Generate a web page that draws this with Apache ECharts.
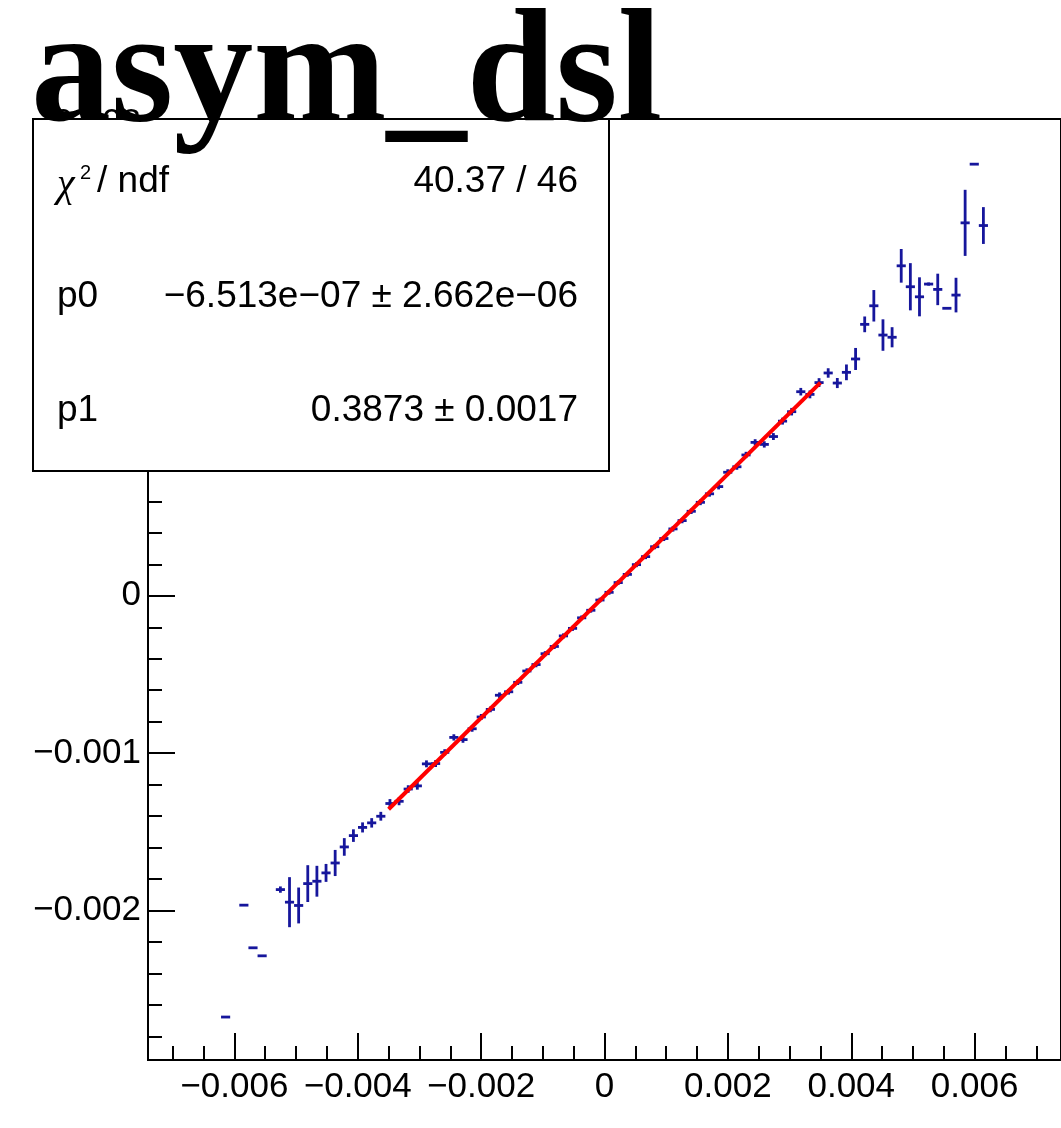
<!DOCTYPE html>
<html>
<head>
<meta charset="utf-8">
<script src="https://cdn.jsdelivr.net/npm/echarts@6/dist/echarts.min.js"></script>
<style>
  html, body { margin: 0; padding: 0; background: #fff; }
  #chart { width: 1061px; height: 1128px; }
</style>
</head>
<body>
<div id="chart"></div>
<script>
// profile bins (centre, mean, error)
const binWidth = 0.000148;
const binX = [
  -0.006142, -0.005846, -0.005698, -0.00555, -0.005254, -0.005106, -0.004958, -0.00481,
  -0.004662, -0.004514, -0.004366, -0.004218, -0.00407, -0.003922, -0.003774, -0.003626,
  -0.003478, -0.00333, -0.003182, -0.003034, -0.002886, -0.002738, -0.00259, -0.002442,
  -0.002294, -0.002146, -0.001998, -0.00185, -0.001702, -0.001554, -0.001406, -0.001258,
  -0.00111, -0.000962, -0.000814, -0.000666, -0.000518, -0.00037, -0.000222, -0.000074,
  0.000074, 0.000222, 0.00037, 0.000518, 0.000666, 0.000814, 0.000962, 0.00111,
  0.001258, 0.001406, 0.001554, 0.001702, 0.00185, 0.001998, 0.002146, 0.002294,
  0.002442, 0.00259, 0.002738, 0.002886, 0.003034, 0.003182, 0.00333, 0.003478,
  0.003626, 0.003774, 0.003922, 0.00407, 0.004218, 0.004366, 0.004514, 0.004662,
  0.00481, 0.004958, 0.005106, 0.005254, 0.005402, 0.00555, 0.005698, 0.005846,
  0.005994, 0.006142
];
const profY = [
  -0.002677, -0.001966, -0.002237, -0.002288, -0.001867, -0.001947, -0.001968, -0.001829,
  -0.001814, -0.001761, -0.001698, -0.001596, -0.001524, -0.001472, -0.001443, -0.001401,
  -0.001320, -0.001306, -0.001228, -0.001208, -0.001068, -0.001066, -0.000995, -0.000900,
  -0.000914, -0.000845, -0.000770, -0.000722, -0.000632, -0.000610, -0.000550, -0.000478,
  -0.000437, -0.000368, -0.000322, -0.000255, -0.000207, -0.000140, -0.000092, -0.000027,
  0.000022, 0.000084, 0.000136, 0.000198, 0.000249, 0.000312, 0.000364, 0.000425,
  0.000478, 0.000537, 0.000594, 0.000648, 0.000694, 0.000785, 0.000820, 0.000895,
  0.000975, 0.000962, 0.001012, 0.001110, 0.001170, 0.001297, 0.001280, 0.001355,
  0.001416, 0.001352, 0.001420, 0.001505, 0.001725, 0.001843, 0.001657, 0.001643,
  0.002097, 0.001964, 0.001900, 0.001981, 0.001947, 0.001827, 0.001911, 0.002370,
  0.002743, 0.002353
];
const profErr = [
  0, 0, 0, 0, 0.00002, 0.000159, 0.000114, 0.000117,
  0.000098, 0.000057, 0.000083, 0.000056, 0.00004, 0.000032, 0.00003, 0.000028,
  0.000028, 0.000025, 0.000024, 0.000024, 0.000022, 0.000022, 0.00002, 0.00002,
  0.00002, 0.000019, 0.000019, 0.000018, 0.000018, 0.000018, 0.000017, 0.000017,
  0.000017, 0.000016, 0.000016, 0.000016, 0.000016, 0.000015, 0.000015, 0.000015,
  0.000015, 0.000015, 0.000015, 0.000016, 0.000016, 0.000016, 0.000016, 0.000017,
  0.000017, 0.000017, 0.000018, 0.000018, 0.000018, 0.000019, 0.000019, 0.00002,
  0.00002, 0.00002, 0.000022, 0.000022, 0.000024, 0.000024, 0.000025, 0.000028,
  0.00003, 0.000032, 0.00005, 0.00007, 0.00005, 0.0001, 0.0001, 0.000064,
  0.000107, 0.00015, 0.000124, 0.00001, 0.0001, 0, 0.00011, 0.00021,
  0, 0.000117
];

// pol1 fit
const fitRange = [-0.0035, 0.0035];
const p0 = -6.513e-07;
const p1 = 0.3873;

// axis ticks
const xMajorTicks = [-0.006, -0.004, -0.002, 0, 0.002, 0.004, 0.006];
const xMinorTicks = [-0.007, -0.0065, -0.0055, -0.005, -0.0045, -0.0035, -0.003, -0.0025,
  -0.0015, -0.001, -0.0005, 0.0005, 0.001, 0.0015, 0.0025, 0.003, 0.0035,
  0.0045, 0.005, 0.0055, 0.0065, 0.007];
const yMajorTicks = [-0.002, -0.001, 0, 0.001, 0.002, 0.003];
const yMinorTicks = [-0.0028, -0.0026, -0.0024, -0.0022, -0.0018, -0.0016, -0.0014, -0.0012,
  -0.0008, -0.0006, -0.0004, -0.0002, 0.0002, 0.0004, 0.0006, 0.0008,
  0.0012, 0.0014, 0.0016, 0.0018, 0.0022, 0.0024, 0.0026, 0.0028];

const chart = echarts.init(document.getElementById('chart'));

const blue = '#16169c';
const fmt = v => (v === 0 ? '0' : v.toFixed(3).replace('-', '\u2212'));
const tickStyle = { color: '#000', width: 2 };
const labelFont = { fontFamily: 'Liberation Sans', fontSize: 35, color: '#000' };
const statFont = '37px "Liberation Sans"';

const profData = binX.map((x, i) => [x, profY[i], profErr[i]]);
const fitData = fitRange.map(x => [x, p0 + p1 * x]);

const option = {
  animation: false,
  backgroundColor: '#fff',
  grid: {
    left: 148, top: 119, right: -6, bottom: 68,
    show: true, borderColor: '#000', borderWidth: 2
  },
  xAxis: [
    {
      type: 'value', min: -0.0074, max: 0.0074, position: 'bottom',
      axisLine: { onZero: false, lineStyle: tickStyle },
      axisTick: { inside: true, length: 27, customValues: xMajorTicks, lineStyle: tickStyle },
      axisLabel: Object.assign({ customValues: xMajorTicks, margin: 10, formatter: fmt }, labelFont),
      splitLine: { show: false }
    },
    {
      type: 'value', min: -0.0074, max: 0.0074, position: 'bottom',
      axisLine: { show: false, onZero: false },
      axisTick: { inside: true, length: 14, customValues: xMinorTicks, lineStyle: tickStyle },
      axisLabel: { show: false },
      splitLine: { show: false }
    }
  ],
  yAxis: [
    {
      type: 'value', min: -0.00295, max: 0.00303, position: 'left',
      axisLine: { onZero: false, lineStyle: tickStyle },
      axisTick: { inside: true, length: 27, customValues: yMajorTicks, lineStyle: tickStyle },
      axisLabel: Object.assign({ customValues: yMajorTicks, margin: 7, formatter: fmt }, labelFont),
      splitLine: { show: false }
    },
    {
      type: 'value', min: -0.00295, max: 0.00303, position: 'left',
      axisLine: { show: false, onZero: false },
      axisTick: { inside: true, length: 14, customValues: yMinorTicks, lineStyle: tickStyle },
      axisLabel: { show: false },
      splitLine: { show: false }
    }
  ],
  series: [
    {
      type: 'custom',
      xAxisIndex: 0,
      yAxisIndex: 0,
      data: profData,
      encode: { x: 0, y: 1 },
      clip: true,
      renderItem: function (params, api) {
        const x = api.value(0), y = api.value(1), e = api.value(2);
        const l = api.coord([x - binWidth / 2, y]);
        const r = api.coord([x + binWidth / 2, y]);
        const children = [{
          type: 'line',
          shape: { x1: l[0], y1: l[1], x2: r[0], y2: r[1] },
          style: { stroke: blue, lineWidth: 2.8 }
        }];
        if (e > 0) {
          const t = api.coord([x, y + e]);
          const b = api.coord([x, y - e]);
          children.push({
            type: 'line',
            shape: { x1: t[0], y1: t[1], x2: b[0], y2: b[1] },
            style: { stroke: blue, lineWidth: 2.8 }
          });
        }
        return { type: 'group', children: children };
      },
      z: 3
    },
    {
      type: 'line',
      xAxisIndex: 0,
      yAxisIndex: 0,
      data: fitData,
      showSymbol: false,
      lineStyle: { color: '#ff0000', width: 4 },
      z: 4
    }
  ],
  graphic: [
    {
      type: 'rect', z: 100,
      shape: { x: 33, y: 119, width: 576, height: 352 },
      style: { fill: '#fff', stroke: '#000', lineWidth: 2 }
    },
    {
      type: 'text', z: 101, x: 57, y: 185,
      style: { text: '\u03c7', font: 'italic 40px "Liberation Serif"', fill: '#000', verticalAlign: 'middle' }
    },
    {
      type: 'text', z: 101, x: 80, y: 173,
      style: { text: '2', font: '20px "Liberation Sans"', fill: '#000', verticalAlign: 'middle' }
    },
    {
      type: 'text', z: 101, x: 97, y: 182,
      style: { text: '/ ndf', font: statFont, fill: '#000', verticalAlign: 'middle' }
    },
    {
      type: 'text', z: 101, x: 578, y: 182,
      style: { text: '40.37 / 46', font: statFont, fill: '#000', align: 'right', verticalAlign: 'middle' }
    },
    {
      type: 'text', z: 101, x: 57, y: 297,
      style: { text: 'p0', font: statFont, fill: '#000', verticalAlign: 'middle' }
    },
    {
      type: 'text', z: 101, x: 578, y: 297,
      style: { text: '\u22126.513e\u221207 \u00b1 2.662e\u221206', font: statFont, fill: '#000', align: 'right', verticalAlign: 'middle' }
    },
    {
      type: 'text', z: 101, x: 57, y: 411,
      style: { text: 'p1', font: statFont, fill: '#000', verticalAlign: 'middle' }
    },
    {
      type: 'text', z: 101, x: 578, y: 411,
      style: { text: '0.3873 \u00b1 0.0017', font: statFont, fill: '#000', align: 'right', verticalAlign: 'middle' }
    },
    {
      type: 'text', z: 110, x: 31, y: 79,
      style: { text: 'asym_dsl', font: 'bold 160px "Liberation Serif"', fill: '#000', verticalAlign: 'middle' }
    }
  ]
};

chart.setOption(option);
</script>
</body>
</html>
